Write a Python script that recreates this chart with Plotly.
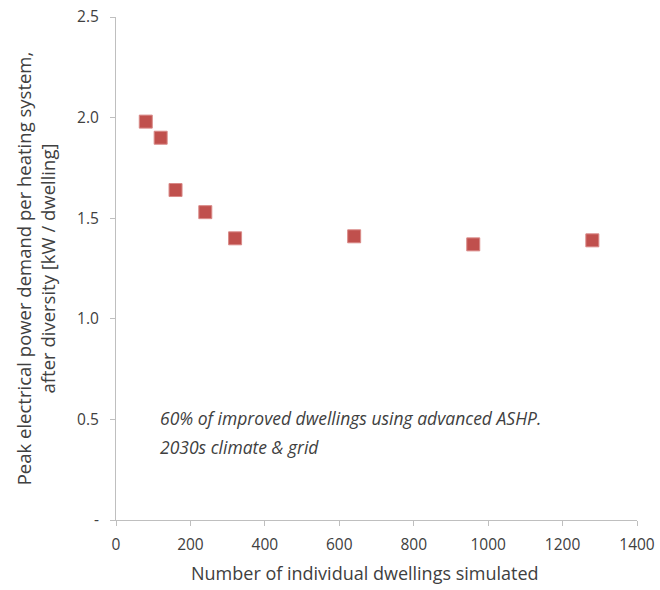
import plotly.graph_objects as go

dwellings = [80, 120, 160, 240, 320, 640, 960, 1280]
peak_kw = [1.98, 1.90, 1.64, 1.53, 1.40, 1.41, 1.37, 1.39]
y_tick_vals = [0, 0.5, 1.0, 1.5, 2.0, 2.5]
y_tick_text = ["-", "0.5", "1.0", "1.5", "2.0", "2.5"]
x_tick_vals = [0, 200, 400, 600, 800, 1000, 1200, 1400]
note_lines = ["60% of improved dwellings using advanced ASHP.", "2030s climate &amp; grid"]

font_family = "Open Sans, Liberation Sans, sans-serif"
axis_color = "#bfbfbf"
text_color = "#404040"

fig = go.Figure()
fig.add_trace(go.Scatter(
    x=dwellings, y=peak_kw, mode="markers",
    marker=dict(symbol="square", size=13, color="#c0504d",
                line=dict(width=1, color="#d98a88")),
    showlegend=False,
))

fig.update_layout(
    width=660, height=590,
    margin=dict(l=116, r=23, t=17, b=70, autoexpand=False),
    paper_bgcolor="white", plot_bgcolor="white",
    font=dict(family=font_family, color=text_color, size=15),
    xaxis=dict(
        range=[0, 1400], tickvals=x_tick_vals, showgrid=False, zeroline=False,
        showline=True, linecolor=axis_color, linewidth=1,
        ticks="outside", ticklen=5, tickcolor=axis_color,
        tickfont=dict(size=15.5, color=text_color), ticklabelstandoff=5,
        ticklabeloverflow="allow", automargin=False,
    ),
    yaxis=dict(
        range=[0, 2.5], tickvals=y_tick_vals, ticktext=y_tick_text,
        showgrid=False, zeroline=False,
        showline=True, linecolor=axis_color, linewidth=1,
        ticks="outside", ticklen=5, tickcolor=axis_color,
        tickfont=dict(size=15.5, color=text_color), ticklabelstandoff=8,
        automargin=False,
        title=dict(text="Peak electrical power demand per heating system,<br>after diversity [kW / dwelling]",
                   font=dict(size=18.5, color=text_color), standoff=16),
    ),
)

# x-axis title placed as in the reference (slightly left of plot centre)
fig.add_annotation(
    x=0.478, y=-0.105, xref="paper", yref="paper",
    xanchor="center", yanchor="middle", showarrow=False,
    text="Number of individual dwellings simulated",
    font=dict(size=18, color=text_color, family=font_family),
)

for i, line in enumerate(note_lines):
    fig.add_annotation(
        x=0.08, y=0.203 - i * 0.058, xref="paper", yref="paper",
        xanchor="left", yanchor="middle", align="left", showarrow=False,
        text="<i>" + line + "</i>",
        font=dict(size=17.5, color=text_color, family=font_family),
    )

fig.write_html("out.html")
